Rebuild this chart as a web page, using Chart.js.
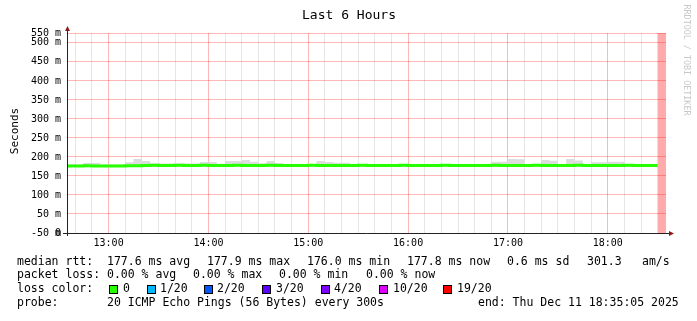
<!DOCTYPE html>
<html>
<head>
<meta charset="utf-8">
<script src="https://cdn.jsdelivr.net/npm/chart.js@4/dist/chart.umd.min.js"></script>
<style>
  html, body { margin: 0; padding: 0; background: #fff; }
  canvas { display: block; }
</style>
</head>
<body>
<canvas id="smoke-chart" width="697" height="321"></canvas>
<script>
// x values are minutes since 12:35, one sample per 300s step
var stepMin = 5;
var windowMin = 360;
var unknownFrom = 355; // 18:30 -> 18:35 not known yet

// median rtt (ms) per step
var medianRtt = [
  176.6, 176.5, 176.4, 176.6, 176.5, 176.3, 176.0, 176.4, 176.6, 176.8,
  177.8, 177.9, 177.8, 177.7, 177.9, 177.8, 177.8, 177.9, 177.8, 177.7,
  177.8, 177.9, 177.8, 177.8, 177.7, 177.9, 177.8, 177.8, 177.7, 177.8,
  177.9, 177.8, 177.8, 177.7, 177.8, 177.8, 177.9, 177.8, 177.7, 177.8,
  177.8, 177.9, 177.8, 177.7, 177.8, 177.8, 177.9, 177.8, 177.8, 177.7,
  177.8, 177.8, 177.9, 177.8, 177.8, 177.7, 177.8, 177.9, 177.8, 177.8,
  177.7, 177.8, 177.9, 177.8, 177.8, 177.7, 177.8, 177.8, 177.9, 177.8,
  177.8
];
// smoke band (ms): highest / lowest ping per step
var smokeHigh = [
  180, 180, 180, 184, 184, 180, 180, 180, 186, 194.7,
  189.5, 182.5, 182.5, 182.5, 182.5, 182.5, 182.5, 186.8, 186.8, 182,
  189.5, 189.5, 192, 187.7, 183.3, 189.5, 184.2, 181, 181, 181,
  181, 189.5, 186.8, 185, 185, 180, 180, 180, 180, 180,
  180, 180, 180, 180, 180, 180, 180, 180, 180, 180,
  180, 180, 187.7, 187.7, 194.5, 194, 181, 181, 192, 190,
  181, 194.7, 191, 181, 186, 186, 187.7, 187.7, 181, 181,
  181
];
var smokeLow = [
  175.5, 175.5, 175.5, 175.5, 175.5, 175.3, 175.0, 175.4, 175.5, 175.6,
  176.5, 176.6, 176.5, 176.5, 176.6, 176.5, 176.5, 176.6, 176.5, 176.5,
  176.5, 176.6, 176.5, 176.5, 176.5, 176.6, 176.5, 176.5, 176.5, 176.5,
  176.6, 176.5, 176.5, 176.5, 176.5, 176.5, 176.6, 176.5, 176.5, 176.5,
  176.5, 176.6, 176.5, 176.5, 176.5, 176.5, 176.6, 176.5, 176.5, 176.5,
  176.5, 176.5, 176.6, 176.5, 176.5, 176.5, 176.5, 176.6, 176.5, 176.5,
  176.5, 176.5, 176.6, 176.5, 176.5, 176.5, 176.5, 176.5, 176.6, 176.5,
  176.5
];

var hourTicks = [25, 85, 145, 205, 265, 325];
var hourLabels = ["13:00", "14:00", "15:00", "16:00", "17:00", "18:00"];

var yMax = 526;
var yTicks = [0, 0, 50, 100, 150, 200, 250, 300, 350, 400, 450, 500, 526];
var yLabels = ["-50 m", "0", "50 m", "100 m", "150 m", "200 m", "250 m", "300 m",
               "350 m", "400 m", "450 m", "500 m", "550 m"];

var lossLabels = ["0", "1/20", "2/20", "3/20", "4/20", "10/20", "19/20"];
var lossColors = ["#26ff00", "#00b8ff", "#0059ff", "#5e00ff", "#7e00ff", "#dd00ff", "#ff0000"];

function toPoints(arr) {
  var pts = arr.map(function (v, i) { return { x: i * stepMin, y: v }; });
  pts.push({ x: arr.length * stepMin, y: arr[arr.length - 1] }); // close last step
  return pts;
}

var mono = "'DejaVu Sans Mono', monospace";

// titles, legend, axis arrows -- rrdtool style
var decor = {
  id: "decor",
  afterDraw: function (chart) {
    var c = chart.ctx, a = chart.chartArea;
    c.save();

    // axes
    c.strokeStyle = "#222";
    c.lineWidth = 1;
    c.beginPath();
    c.moveTo(a.left + 0.5, a.bottom + 3);
    c.lineTo(a.left + 0.5, a.top - 3);
    c.moveTo(a.left - 4, a.bottom + 0.5);
    c.lineTo(a.right + 4, a.bottom + 0.5);
    c.stroke();
    c.fillStyle = "#8b1a1a";
    c.beginPath();
    c.moveTo(a.left - 2, a.top - 2);
    c.lineTo(a.left + 3, a.top - 2);
    c.lineTo(a.left + 0.5, a.top - 7);
    c.closePath();
    c.fill();
    c.beginPath();
    c.moveTo(a.right + 3, a.bottom - 2);
    c.lineTo(a.right + 3, a.bottom + 3);
    c.lineTo(a.right + 8, a.bottom + 0.5);
    c.closePath();
    c.fill();

    c.fillStyle = "#000";
    c.textBaseline = "middle";
    c.font = "13px " + mono;
    c.textAlign = "center";
    c.fillText("Last 6 Hours", 349, 16);

    c.save();
    c.translate(15, 131);
    c.rotate(-Math.PI / 2);
    c.font = "11px " + mono;
    c.fillText("Seconds", 0, 0);
    c.restore();

    c.save();
    c.translate(686, 60);
    c.rotate(Math.PI / 2);
    c.font = "8.4px " + mono;
    c.fillStyle = "#c8c8c8";
    c.fillText("RRDTOOL / TOBI OETIKER", 0, 0);
    c.restore();

    c.textAlign = "left";
    c.font = "11.5px " + mono;
    var rows = [
      [262, [[17, "median rtt:"], [107, "177.6 ms avg"], [207, "177.9 ms max"], [307, "176.0 ms min"],
             [407, "177.8 ms now"], [507, "0.6 ms sd"], [587, "301.3"], [642, "am/s"]]],
      [275, [[17, "packet loss:"], [107, "0.00 % avg"], [193, "0.00 % max"], [279, "0.00 % min"],
             [366, "0.00 % now"]]],
      [289, [[17, "loss color:"]]],
      [303, [[17, "probe:"], [107, "20 ICMP Echo Pings (56 Bytes) every 300s"],
             [478, "end: Thu Dec 11 18:35:05 2025"]]]
    ];
    rows.forEach(function (r) {
      r[1].forEach(function (p) { c.fillText(p[1], p[0], r[0]); });
    });

    var boxX = [109, 147, 204, 262, 321, 379, 443];
    var lblX = [123, 160, 217, 276, 334, 393, 457];
    lossLabels.forEach(function (lbl, i) {
      c.fillStyle = lossColors[i];
      c.fillRect(boxX[i] + 0.5, 285.5, 8, 8);
      c.strokeStyle = "#000";
      c.strokeRect(boxX[i] + 0.5, 285.5, 8, 8);
      c.fillStyle = "#000";
      c.fillText(lbl, lblX[i], 289);
    });

    c.restore();
  }
};

var ctx = document.getElementById("smoke-chart");

var smokeChart = new Chart(ctx, {
  type: "line",
  data: {
    datasets: [
      {
        label: "median",
        data: toPoints(medianRtt),
        borderColor: "#26ff00",
        borderWidth: 3,
        stepped: "after",
        pointRadius: 0,
        fill: false,
        order: 0
      },
      {
        label: "smoke low",
        data: toPoints(smokeLow),
        borderWidth: 0,
        stepped: "after",
        pointRadius: 0,
        fill: false,
        order: 2
      },
      {
        label: "smoke high",
        data: toPoints(smokeHigh),
        borderWidth: 0,
        backgroundColor: "#dcdcdc",
        stepped: "after",
        pointRadius: 0,
        fill: "-1",
        order: 1
      },
      {
        label: "unknown",
        data: [{ x: unknownFrom, y: yMax }, { x: windowMin, y: yMax }],
        borderWidth: 0,
        backgroundColor: "rgba(255, 0, 0, 0.33)",
        pointRadius: 0,
        fill: "origin",
        order: 3
      }
    ]
  },
  options: {
    responsive: false,
    animation: false,
    devicePixelRatio: 1,
    layout: { padding: { top: 33, right: 31, left: 0, bottom: 0 } },
    plugins: { legend: { display: false }, tooltip: { enabled: false } },
    scales: {
      x: {
        type: "linear",
        min: 0,
        max: windowMin,
        afterBuildTicks: function (scale) {
          var t = [];
          for (var m = 5; m < windowMin; m += 10) t.push({ value: m });
          scale.ticks = t;
        },
        afterFit: function (scale) { scale.height = 88; },
        ticks: {
          autoSkip: false,
          maxRotation: 0,
          padding: 4,
          color: "#000",
          font: { family: mono, size: 10 },
          callback: function (v) {
            var k = hourTicks.indexOf(v);
            return k >= 0 ? hourLabels[k] : "";
          }
        },
        grid: {
          drawTicks: false,
          color: function (c) {
            return hourTicks.indexOf(c.tick.value) >= 0 ? "rgba(255, 0, 0, 0.28)" : "rgba(140, 140, 140, 0.22)";
          }
        },
        border: { display: false }
      },
      y: {
        min: 0,
        max: yMax,
        afterBuildTicks: function (scale) {
          scale.ticks = yTicks.map(function (v) { return { value: v }; });
        },
        afterFit: function (scale) { scale.width = 67; },
        ticks: {
          autoSkip: false,
          padding: 6,
          color: "#000",
          font: { family: mono, size: 10 },
          callback: function (v, i) { return yLabels[i]; }
        },
        grid: { drawTicks: false, color: "rgba(255, 0, 0, 0.28)" },
        border: { display: false }
      }
    }
  },
  plugins: [decor]
});
</script>
</body>
</html>
